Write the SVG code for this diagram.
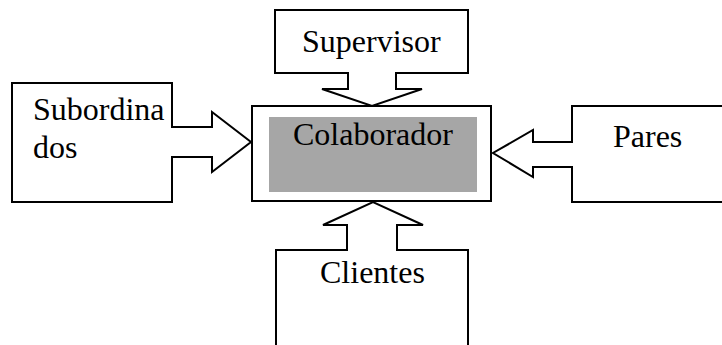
<svg xmlns="http://www.w3.org/2000/svg" width="722" height="345" viewBox="0 0 722 345">
<style>
.shape{fill:#fff;stroke:#000;stroke-width:2;stroke-linejoin:miter}
</style>
<rect width="722" height="345" fill="#fff"/>
<g id="connectors"></g>
<g font-family="Liberation Serif, Times New Roman, serif" font-size="32" fill="#000">
<g id="supervisor">
<path class="shape" d="M275,10 H468 V73 H396 V89 H422 L372,106 L322,89 H348 V73 H275 Z"/>
<text x="302" y="52">Supervisor</text>
</g>
<g id="subordinados">
<path class="shape" d="M12,83 H172 V127 H212 V112 L251,142 L212,172 V157 H172 V202 H12 Z"/>
<text x="33" y="120">Subordina</text>
<text x="33" y="158">dos</text>
</g>
<g id="pares">
<path class="shape" d="M726,106 H572 V142 H533 V130 L493,153 L533,177 V167 H572 V202 H726"/>
<text x="613" y="147">Pares</text>
</g>
<g id="clientes">
<path class="shape" d="M276,350 V250 H347 V225 H323 L373,202 L423,225 H397 V250 H468 V350"/>
<text x="320" y="283">Clientes</text>
</g>
<g id="colaborador">
<rect class="shape" x="252" y="106" width="239" height="95"/>
<rect x="269" y="117" width="208" height="75" fill="#a6a6a6"/>
<text x="293" y="145">Colaborador</text>
</g>
</g>
</svg>
